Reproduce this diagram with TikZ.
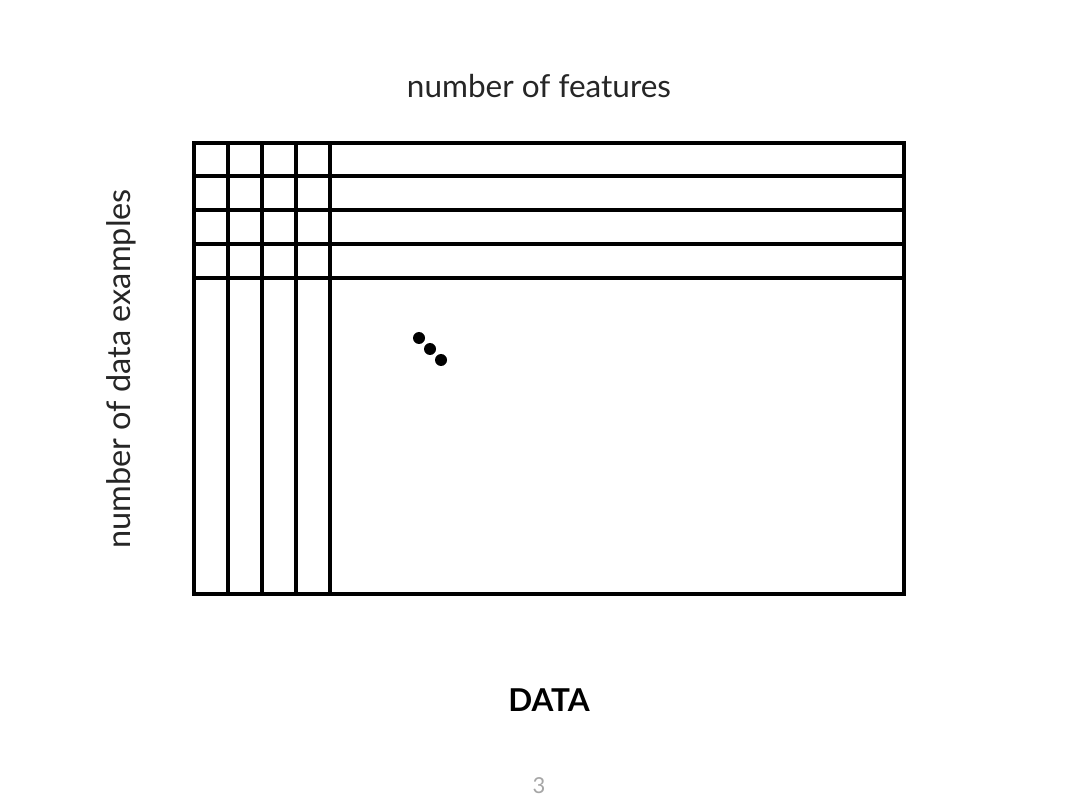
\documentclass[tikz,border=0pt]{standalone}
\usepackage{fontspec}
\setmainfont{Lato}
\begin{document}
\begin{tikzpicture}[x=1pt,y=-1pt,
  gridline/.style={line width=3.8pt,black},
  lbl/.style={inner sep=0pt,text=black!85},
  dot/.style={circle,fill=black,inner sep=0pt,minimum size=12pt}]
\useasboundingbox[fill=white] (0,0) rectangle (1080,810);
% outer rectangle
\draw[gridline] (194,143) rectangle (904,594);
% vertical lines
\foreach \x in {228,262,296,330} \draw[gridline] (\x,143) -- (\x,594);
% horizontal lines
\foreach \y in {176,210,244,278} \draw[gridline] (194,\y) -- (904,\y);
% dots
\node[dot] (d1) at (419,338) {};
\node[dot] (d2) at (430,349) {};
\node[dot] (d3) at (441,360) {};
% labels
\node[lbl,font=\fontsize{31.5}{34}\selectfont] (top) at (539,86) {number of features};
\node[lbl,rotate=90,font=\fontsize{32.5}{36}\selectfont] (side) at (121,369) {number of data examples};
\node[inner sep=0pt,font=\fontsize{31.5}{34}\selectfont\bfseries] (data) at (549,700) {DATA};
\node[inner sep=0pt,font=\fontsize{22}{24}\selectfont,text=black!35] (page) at (539,786) {3};
\end{tikzpicture}
\end{document}
